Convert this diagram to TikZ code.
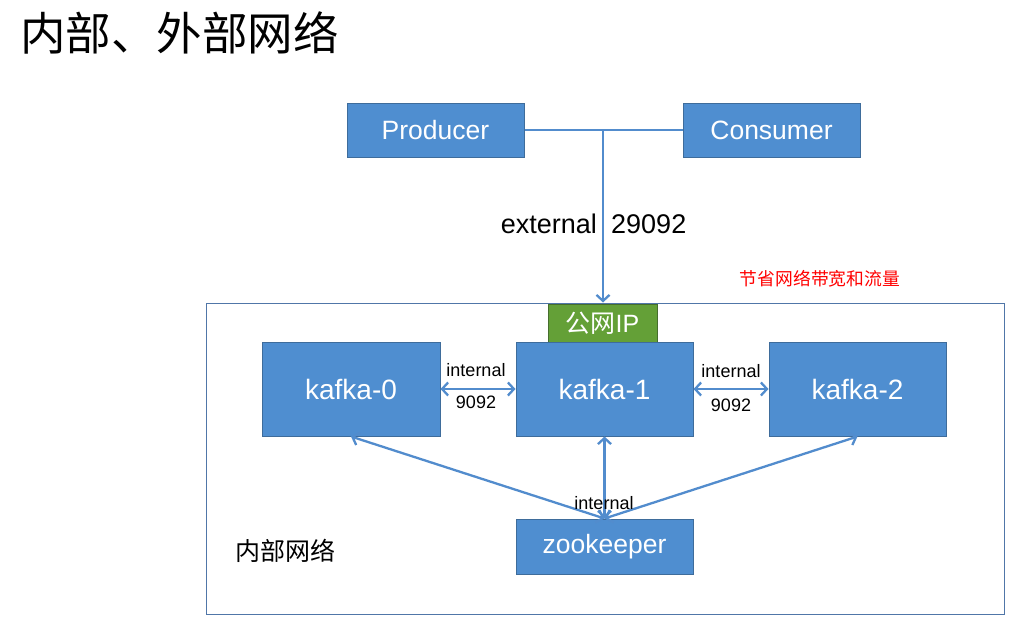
\documentclass[tikz,border=0pt]{standalone}
\usepackage{fontspec}
\setmainfont{Liberation Sans}
\newfontfamily\cjk{Noto Sans CJK SC}
\usetikzlibrary{arrows.meta}
\definecolor{boxblue}{RGB}{79,142,208}
\definecolor{boxedge}{RGB}{62,108,155}
\definecolor{lineblue}{RGB}{82,140,205}
\definecolor{ipgreen}{RGB}{100,160,55}
\definecolor{ipedge}{RGB}{70,110,45}
\definecolor{outeredge}{RGB}{80,118,168}
\tikzset{
  x=1pt, y=-1pt,
  bluebox/.style={draw=boxedge, line width=1pt, fill=boxblue, text=white, inner sep=0pt, font=\fontsize{26.5}{30}\selectfont},
  conn/.style={draw=lineblue, line width=2.3pt},
  dbl/.style={conn, {Straight Barb[length=6pt,width=13pt]}-{Straight Barb[length=6pt,width=13pt]}},
  single/.style={conn, -{Straight Barb[length=6pt,width=13pt]}},
  lbl/.style={text=black, inner sep=0pt, font=\fontsize{18}{21}\selectfont},
}
\begin{document}
\begin{tikzpicture}
\useasboundingbox[fill=white] (0,0) rectangle (1019,632);
% title
\node[anchor=west, inner sep=0pt, font=\cjk\fontsize{45.5}{50}\selectfont] (title) at (20,33) {内部、外部网络};
% outer network
\node[draw=outeredge, line width=1pt, minimum width=798pt, minimum height=311pt, inner sep=0pt] (outer) at (605,458.5) {};
% producer/consumer
\node[bluebox, minimum width=177pt, minimum height=54pt] (prod) at (435.5,130) {Producer};
\node[bluebox, minimum width=177pt, minimum height=54pt] (cons) at (771.5,130) {Consumer};
\coordinate (junc) at (603,130);
\draw[conn] (prod.east) -- (cons.west);
\draw[single] (junc) -- (junc |- outer.north);
\node[lbl, anchor=east, font=\fontsize{27}{31}\selectfont] (ext) at (597,224) {external};
\node[lbl, anchor=west, font=\fontsize{27}{31}\selectfont] (port) at (611,224) {29092};
\node[anchor=center, inner sep=0pt, text=red, font=\cjk\fontsize{17.8}{20}\selectfont] (save) at (820,279) {节省网络带宽和流量};
% public IP
\node[draw=ipedge, line width=1pt, fill=ipgreen, text=white, minimum width=109pt, minimum height=38pt, inner sep=0pt, font=\fontsize{25}{29}\selectfont] (ip) at (602.5,323) {{\cjk 公网}IP};
% kafka
\node[bluebox, minimum width=178pt, minimum height=94pt, font=\fontsize{28}{32}\selectfont] (k0) at (351,389) {kafka-0};
\node[bluebox, minimum width=177pt, minimum height=94pt, font=\fontsize{28}{32}\selectfont] (k1) at (604.5,389) {kafka-1};
\node[bluebox, minimum width=177pt, minimum height=94pt, font=\fontsize{28}{32}\selectfont] (k2) at (857.5,389) {kafka-2};
\node[bluebox, minimum width=177pt, minimum height=55pt] (zk) at (604.5,546.5) {zookeeper};
\draw[dbl] (k0.east) -- (k1.west);
\draw[dbl] (k1.east) -- (k2.west);
\node[lbl] (i01) at (476,370) {internal};
\node[lbl] (p01) at (476,402) {9092};
\node[lbl] (i12) at (731,371) {internal};
\node[lbl] (p12) at (731,405) {9092};
\draw[dbl] (zk.north) -- (k0.south);
\draw[dbl] (zk.north) -- (k1.south);
\draw[dbl] (zk.north) -- (k2.south);
\node[lbl] (izk) at (604,503) {internal};
\node[anchor=west, inner sep=0pt, font=\cjk\fontsize{25}{29}\selectfont] (inner) at (235,551) {内部网络};
\end{tikzpicture}
\end{document}
